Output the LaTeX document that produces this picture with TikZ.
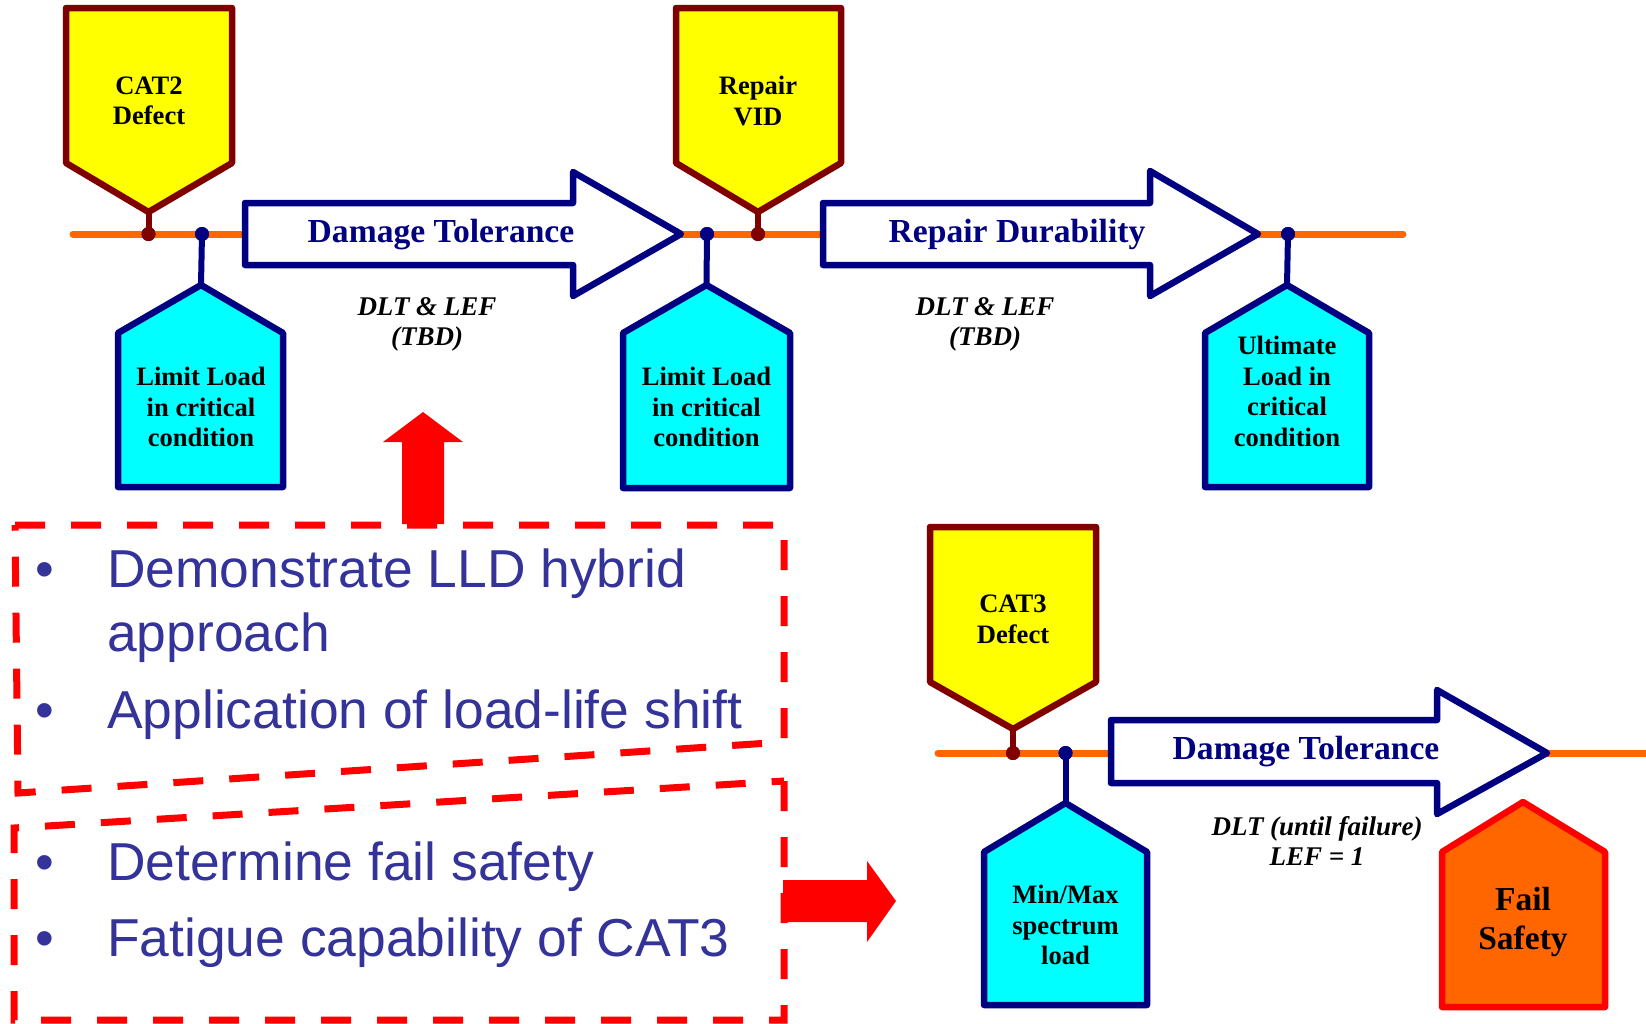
\documentclass[tikz,border=0pt]{standalone}
\usepackage{fontspec}
\setmainfont{Liberation Serif}
\newfontfamily\arialish{Liberation Sans}

\definecolor{tagyellow}{HTML}{FFFF00}
\definecolor{tagred}{HTML}{800000}
\definecolor{tagcyan}{HTML}{00FFFF}
\definecolor{tagnavy}{HTML}{000080}
\definecolor{lineorange}{HTML}{FF6600}
\definecolor{failorange}{HTML}{FF6600}
\definecolor{failred}{HTML}{FF0000}
\definecolor{pointblue}{HTML}{333399}

\tikzset{
  defecttag/.style={fill=tagyellow, draw=tagred, line width=6.5pt, line join=round},
  loadtag/.style={fill=tagcyan, draw=tagnavy, line width=6.5pt, line join=round},
  failtag/.style={fill=failorange, draw=failred, line width=6.5pt, line join=round},
  phasearrow/.style={fill=white, draw=tagnavy, line width=6.5pt, line join=round},
  timeline/.style={draw=lineorange, line width=7pt, line cap=round},
  navystem/.style={draw=tagnavy, line width=6pt},
  redstem/.style={draw=tagred, line width=6pt},
  navydot/.style={fill=tagnavy, circle, inner sep=0pt, minimum size=14pt},
  reddot/.style={fill=tagred, circle, inner sep=0pt, minimum size=14pt},
  tagtext/.style={font=\bfseries\fontsize{26.6}{30.5}\selectfont, align=center, inner sep=0pt},
  failtext/.style={font=\bfseries\fontsize{33.5}{39}\selectfont, align=center, inner sep=0pt},
  phasetext/.style={font=\bfseries\fontsize{33.6}{38}\selectfont, text=tagnavy, inner sep=0pt, anchor=base},
  notetext/.style={font=\bfseries\itshape\fontsize{27}{30}\selectfont, align=center, inner sep=0pt},
  pointtext/.style={font=\arialish\fontsize{53.4}{64}\selectfont, text=pointblue, inner sep=0pt, anchor=base west},
  hintbox/.style={draw=failred, line width=7pt, dash pattern=on 30pt off 26pt},
  hintarrow/.style={fill=failred},
}

\begin{document}
\begin{tikzpicture}[x=1pt, y=-1pt]
\useasboundingbox (0,0) rectangle (1646,1023);

% ---------- time lines ----------
\draw[timeline] (73,234) -- (1403,234);
\draw[timeline] (938,753) -- (1652,753);

% ---------- phase arrows ----------
\draw[phasearrow] (245,203) -- (573,203) -- (573,172) -- (681,234) -- (573,296) -- (573,265) -- (245,265) -- cycle;
\draw[phasearrow] (823,203) -- (1150,203) -- (1150,171) -- (1258,234) -- (1150,296) -- (1150,265) -- (823,265) -- cycle;
\draw[phasearrow] (1111,720) -- (1437,720) -- (1437,690) -- (1547,753) -- (1437,814) -- (1437,783) -- (1111,783) -- cycle;

\node[phasetext] (dt1) at (441,242) {Damage Tolerance};
\node[phasetext] (rd) at (1017,242) {Repair Durability};
\node[phasetext] (dt2) at (1306,759) {Damage Tolerance};

% ---------- event dots ----------
\node[reddot] (cat2dot) at (148.5,234) {};
\node[navydot] (ll1dot) at (202,234) {};
\node[reddot] (vid) at (758,234) {};
\node[navydot] (ll2dot) at (707,234) {};
\node[navydot] (uldot) at (1288,234) {};
\node[reddot] (cat3dot) at (1013,753) {};
\node[navydot] (mmdot) at (1065.5,753) {};

% ---------- tag tips ----------
\coordinate (cat2tip) at (148.5,212);
\coordinate (viptip) at (758,212);
\coordinate (cat3tip) at (1013,729);
\coordinate (ll1top) at (201,285);
\coordinate (ll2top) at (706.5,285);
\coordinate (ultop) at (1287,285);
\coordinate (mmtop) at (1065.5,803);

% ---------- stems ----------
\draw[redstem] (cat2tip) -- (cat2dot.center);
\draw[redstem] (viptip) -- (vid.center);
\draw[redstem] (cat3tip) -- (cat3dot.center);
\draw[navystem] (ll1dot.center) -- (ll1top);
\draw[navystem] (ll2dot.center) -- (ll2top);
\draw[navystem] (uldot.center) -- (ultop);
\draw[navystem] (mmdot.center) -- (mmtop);

% ---------- defect tags (pointing down) ----------
\draw[defecttag] (66,8) -- (232,8) -- (232,163) -- (cat2tip) -- (66,163) -- cycle;
\draw[defecttag] (676,8) -- (841,8) -- (841,163) -- (viptip) -- (676,163) -- cycle;
\draw[defecttag] (930,527) -- (1096,527) -- (1096,682) -- (cat3tip) -- (930,682) -- cycle;

% ---------- load tags (pointing up) ----------
\draw[loadtag] (ll1top) -- (283,333) -- (283,487) -- (118,487) -- (118,333) -- cycle;
\draw[loadtag] (ll2top) -- (790,333) -- (790,488) -- (623,488) -- (623,333) -- cycle;
\draw[loadtag] (ultop) -- (1369,333) -- (1369,487) -- (1205,487) -- (1205,333) -- cycle;
\draw[loadtag] (mmtop) -- (1147,852) -- (1147,1005) -- (984,1005) -- (984,852) -- cycle;
\draw[failtag] (1523,802) -- (1605,852) -- (1605,1007) -- (1442,1007) -- (1442,852) -- cycle;

% ---------- dots on top ----------
\node[reddot] at (cat2dot) {};
\node[navydot] at (ll1dot) {};
\node[reddot] at (vid) {};
\node[navydot] at (ll2dot) {};
\node[navydot] at (uldot) {};
\node[reddot] at (cat3dot) {};
\node[navydot] at (mmdot) {};

% ---------- tag texts ----------
\node[tagtext] (cat2) at (149,101) {CAT2\\Defect};
\node[tagtext] (repair) at (758,101) {Repair\\VID};
\node[tagtext] (cat3) at (1013,619.5) {CAT3\\Defect};
\node[tagtext] (ll1) at (201,407) {Limit Load\\in critical\\condition};
\node[tagtext] (ll2) at (706.5,407) {Limit Load\\in critical\\condition};
\node[tagtext] (ul) at (1287,391.5) {Ultimate\\Load in\\critical\\condition};
\node[tagtext] (mm) at (1065.5,925) {Min/Max\\spectrum\\load};
\node[failtext] (fs) at (1523,922) {Fail\\Safety};

% ---------- notes ----------
\node[notetext] (note1) at (427,324) {DLT \& LEF\\(TBD)};
\node[notetext] (note2) at (985,324) {DLT \& LEF\\(TBD)};
\node[notetext] (note3) at (1317,841) {DLT (until failure)\\LEF = 1};

% ---------- dashed note boxes ----------
\draw[hintbox] (15,525) -- (784,525) -- (784,742) -- (18,793) -- cycle;
\draw[hintbox] (784,781) -- (784,1020) -- (14,1020) -- (14,828) -- cycle;

% ---------- red pointer arrows ----------
\fill[hintarrow] (402,524) -- (402,442) -- (383,442) -- (423,412) -- (463,442) -- (444,442) -- (444,524) -- cycle;
\fill[hintarrow] (783,880) -- (867,880) -- (867,861) -- (896,901) -- (867,942) -- (867,922) -- (783,922) -- cycle;

% ---------- bullet points ----------
\node[pointtext] (b1) at (35.5,587) {•};
\node[pointtext] (p1a) at (107,587) {Demonstrate LLD hybrid};
\node[pointtext] (p1b) at (107,651) {approach};
\node[pointtext] (b2) at (35.5,728) {•};
\node[pointtext] (p2) at (107,728) {Application of load-life shift};
\node[pointtext] (b3) at (35.5,880) {•};
\node[pointtext] (p3) at (107,880) {Determine fail safety};
\node[pointtext] (b4) at (35.5,956) {•};
\node[pointtext] (p4) at (107,956) {Fatigue capability of CAT3};
\end{tikzpicture}
\end{document}
